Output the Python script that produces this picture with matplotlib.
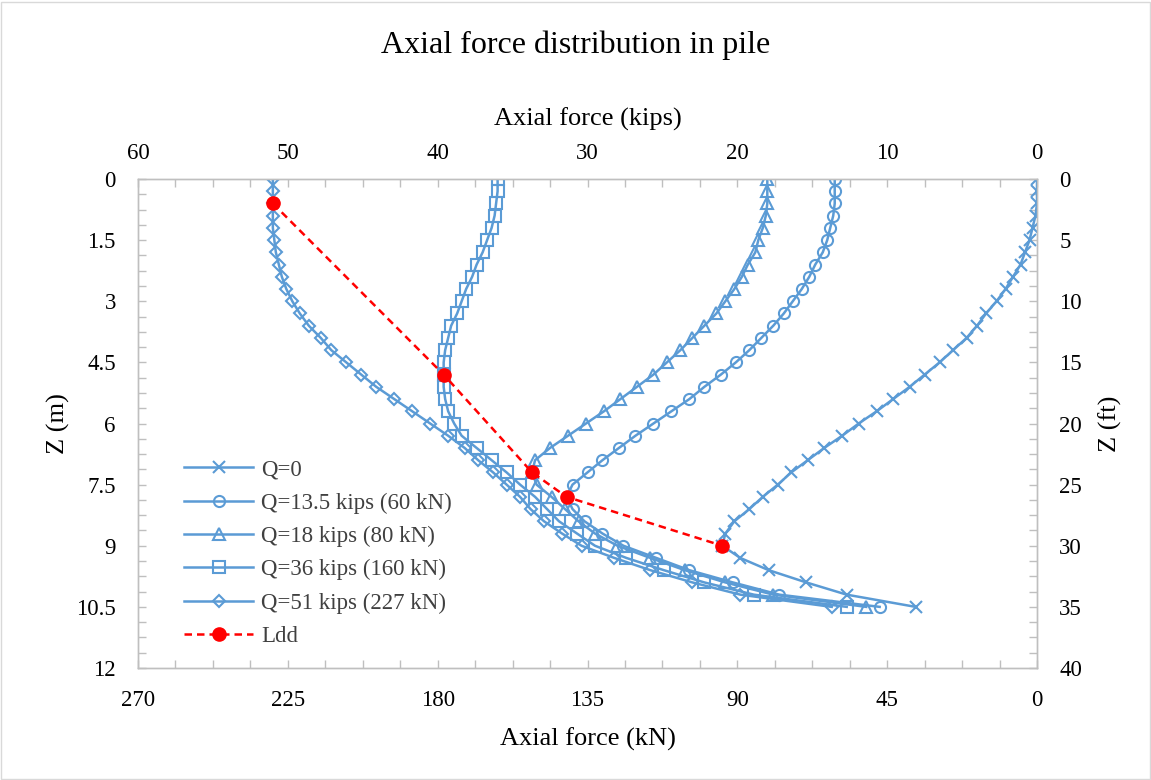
import matplotlib
matplotlib.use("Agg")
import matplotlib.pyplot as plt
from matplotlib.ticker import MultipleLocator, StrMethodFormatter
from matplotlib.patches import Rectangle

# Depth of each reading (ft), axial force (kips)
depth_ft = [0, 1, 2, 3, 4, 5, 6, 7, 8, 9, 10, 11, 12, 13, 14, 15, 16, 17,
            18, 19, 20, 21, 22, 23, 24, 25, 26, 27, 28, 29, 30, 31, 32, 33, 34, 35]

q0 = [0.0, 0.0, 0.0, 0.1, 0.3, 0.5, 0.8, 1.1, 1.6, 2.1, 2.7, 3.4, 4.0, 4.7, 5.6, 6.5, 7.5, 8.5,
      9.6, 10.7, 11.9, 13.0, 14.2, 15.3, 16.4, 17.3, 18.3, 19.2, 20.2, 20.8, 21.0, 19.8, 17.9, 15.4, 12.7, 8.1]
q13 = [13.5, 13.5, 13.5, 13.6, 13.8, 14.0, 14.3, 14.8, 15.2, 15.7, 16.3, 16.9, 17.6, 18.4, 19.2, 20.1, 21.1, 22.2,
       23.2, 24.4, 25.6, 26.8, 27.9, 29.0, 30.0, 31.0, 31.4, 31.0, 30.2, 29.0, 27.6, 25.4, 23.2, 20.3, 17.2, 10.5]
q18 = [18.0, 18.0, 18.0, 18.1, 18.3, 18.6, 18.8, 19.3, 19.7, 20.2, 20.8, 21.4, 22.2, 23.0, 23.8, 24.7, 25.6, 26.7,
       27.8, 28.9, 30.1, 31.3, 32.5, 33.5, 33.7, 33.4, 32.4, 31.5, 30.6, 29.5, 28.0, 25.8, 23.5, 20.8, 17.6, 11.4]
q36 = [36.0, 36.0, 36.1, 36.2, 36.4, 36.7, 37.0, 37.4, 37.7, 38.1, 38.4, 38.7, 39.1, 39.3, 39.5, 39.6, 39.6, 39.6,
       39.5, 39.3, 38.9, 38.4, 37.4, 36.4, 35.4, 34.5, 33.5, 32.7, 31.9, 30.7, 29.5, 27.4, 24.9, 22.2, 18.9, 12.7]
q51 = [51.0, 51.0, 51.0, 51.0, 51.0, 50.9, 50.8, 50.6, 50.4, 50.1, 49.7, 49.2, 48.6, 47.8, 47.1, 46.1, 45.1, 44.1,
       42.9, 41.7, 40.5, 39.3, 38.2, 37.3, 36.3, 35.4, 34.5, 33.8, 32.9, 31.7, 30.4, 28.2, 25.8, 23.0, 19.8, 13.7]

ldd_depth_ft = [2, 16, 24, 26, 30]
ldd_force = [51.0, 39.6, 33.7, 31.4, 21.0]

labels = ["Q=0", "Q=13.5 kips (60 kN)", "Q=18 kips (80 kN)",
          "Q=36 kips (160 kN)", "Q=51 kips (227 kN)"]
markers = ["x", "o", "^", "s", "D"]
msizes = [8, 8, 8.5, 8.5, 6.2]

plt.rcParams["font.family"] = ["Liberation Serif", "DejaVu Serif"]

blue = "#5B9BD5"
grey = "#BFBFBF"
rect = [138 / 1151, 1 - 668 / 780, 899 / 1151, 489 / 780]

fig = plt.figure(figsize=(11.51, 7.80), dpi=100)

# metric axes underneath (kN bottom, m left)
axm = fig.add_axes(rect)
axm.set_xlim(270, 0)
axm.set_ylim(12, 0)
axm.xaxis.set_major_locator(MultipleLocator(45))
axm.xaxis.set_minor_locator(MultipleLocator(11.25))
axm.yaxis.set_major_locator(MultipleLocator(1.5))
axm.yaxis.set_minor_locator(MultipleLocator(0.375))
axm.yaxis.set_major_formatter(StrMethodFormatter("{x:g}"))
axm.set_xlabel("Axial force (kN)", fontsize=19, labelpad=12)
axm.set_ylabel("Z (m)", fontsize=19, labelpad=4)
axm.tick_params(axis="x", which="major", pad=16)
axm.tick_params(axis="y", which="major", pad=16)

# data axes on top (kips top, ft right)
ax = fig.add_axes(rect)
ax.patch.set_alpha(0)
for vals, lab, mk, ms in zip([q0, q13, q18, q36, q51], labels, markers, msizes):
    ax.plot(vals, depth_ft, color=blue, lw=1.8, marker=mk, ms=ms,
            mfc="none", mec=blue, mew=1.5, label=lab)

ax.plot(ldd_force, ldd_depth_ft, color="#FF0000", lw=1.8, ls=(0, (3, 2)),
        marker="o", ms=9.5, mfc="#FF0000", mec="#FF0000", label="Ldd", zorder=5)

ax.set_xlim(60, 0)
ax.set_ylim(40, 0)
ax.xaxis.tick_top()
ax.xaxis.set_label_position("top")
ax.yaxis.tick_right()
ax.yaxis.set_label_position("right")
ax.xaxis.set_major_locator(MultipleLocator(10))
ax.xaxis.set_minor_locator(MultipleLocator(2.5))
ax.yaxis.set_major_locator(MultipleLocator(5))
ax.yaxis.set_minor_locator(MultipleLocator(1.25))
ax.set_xlabel("Axial force (kips)", fontsize=19, labelpad=12)
ax.set_ylabel("Z (ft)", fontsize=19, labelpad=12)
ax.tick_params(axis="x", which="major", pad=11)
ax.tick_params(axis="y", which="major", pad=16)

for a in [axm, ax]:
    a.tick_params(which="both", direction="in", length=6, width=1,
                  color=grey, labelsize=16.5, labelcolor="black")
    for s in a.spines.values():
        s.set_color(grey)
        s.set_linewidth(1)

ax.legend(loc="upper left", bbox_to_anchor=(175 / 1151, 1 - 450 / 780),
          bbox_transform=fig.transFigure, frameon=False, fontsize=16.5,
          handlelength=3.0, labelspacing=0.53, labelcolor="#404040",
          borderaxespad=0, handletextpad=0.35)

fig.text(0.5, 1 - 45 / 780, "Axial force distribution in pile", ha="center",
         va="center", fontsize=23)

fig.patches.append(Rectangle((0.001, 0.001), 0.998, 0.997, transform=fig.transFigure,
                             fill=False, edgecolor="#D9D9D9", lw=1))

fig.savefig("out.png", dpi=100)
